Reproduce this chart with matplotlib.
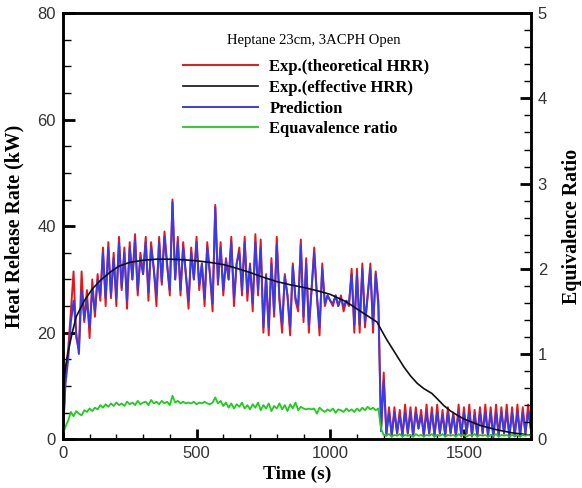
import numpy as np
from matplotlib import pyplot as plt
from matplotlib.ticker import MultipleLocator

# time grid (s) of the sampled HRR / equivalence ratio records
t = np.arange(0, 1751, 10)

# Exp. (theoretical HRR), kW
hrr_theo = [0.5, 12, 17, 24, 31.5, 19, 17, 31.5, 22, 28,
            19, 30, 23, 31, 26, 36, 25, 37, 26.5, 35,
            25, 38, 28, 36, 24.5, 37, 30, 38.5, 27, 35,
            31, 38, 26, 37, 32, 25, 38, 29, 39, 33,
            27, 45, 30, 38, 27, 37, 31, 24.5, 36, 30,
            38, 28, 33, 25, 37, 31, 24, 44, 29, 37,
            27, 34, 30, 38, 25, 33, 36, 27, 38, 26,
            33, 24, 38.5, 27, 37.5, 20, 31, 19.5, 34, 23,
            38, 26, 20, 31, 27, 19.5, 33, 26, 24, 37.5,
            22, 34, 20, 28, 36, 27, 19.5, 33, 25, 27,
            26, 25, 27, 25, 27, 24, 26, 25, 32, 20,
            32, 20, 33, 21, 27, 33, 20, 31.5, 26, 2,
            12.5, 1, 6, 0.5, 6, 1, 5.5, 0.5, 6.5, 1,
            6, 0.5, 6, 2, 5.5, 0.5, 6.5, 1, 6, 0.5,
            6.5, 1, 5.5, 0.5, 6, 1, 5, 0.5, 6.5, 0.5,
            6, 1, 6.5, 0.5, 5.5, 0.5, 6, 1, 6.5, 0.5,
            6, 0.3, 6.5, 0.5, 6, 1, 6.5, 0.3, 6, 0.5,
            6.5, 0.5, 6, 1, 6.5, 2]

# Prediction, kW
hrr_pred = [0.5, 10.5, 15, 22, 26, 20, 16, 28, 22.5, 26,
            21, 28, 24, 30, 27, 35, 26.5, 36, 27, 34,
            26.5, 37, 28.5, 35, 26, 36, 30, 37.5, 28, 34,
            31, 37, 27.5, 36, 32, 27, 37, 29.5, 38, 32.5,
            28, 44.5, 30, 37, 28, 36, 31, 26, 35, 30,
            37, 29, 33, 26.5, 36, 31, 25.5, 43.5, 29.5, 36,
            28, 33.5, 30, 37, 26.5, 33, 35, 28, 37, 27.5,
            32.5, 25.5, 37, 28, 36, 21, 30.5, 21, 33, 24,
            36.5, 26.5, 21.5, 30.5, 27, 21, 32.5, 26.5, 25, 36.5,
            23, 33, 21.5, 28, 35, 27, 21, 32, 25.5, 27,
            26, 25.5, 27, 25, 26.5, 25, 26, 25.5, 31, 21.5,
            31, 21.5, 32, 22, 27, 32, 21.5, 31, 25, 1.5,
            11, 1, 5, 0.8, 5, 1.2, 4.5, 0.8, 5, 1.2,
            5, 0.8, 5, 2, 4.5, 0.8, 5, 1.2, 5, 0.8,
            5, 1.2, 4.5, 0.8, 5, 1.2, 4.5, 0.8, 5, 0.8,
            5, 1.2, 5, 0.8, 4.5, 0.8, 5, 1.2, 5, 0.8,
            5, 0.5, 5, 0.8, 5, 1.2, 5, 0.5, 5, 0.8,
            5, 0.8, 5, 1.2, 5, 2]

# Equivalence ratio (right axis)
phi = [0.05, 0.15, 0.22, 0.32, 0.27, 0.33, 0.3, 0.28, 0.34, 0.32,
       0.36, 0.33, 0.37, 0.35, 0.4, 0.37, 0.41, 0.38, 0.42, 0.39,
       0.43, 0.4, 0.42, 0.39, 0.44, 0.41, 0.43, 0.4, 0.45, 0.41,
       0.43, 0.44, 0.4, 0.46, 0.42, 0.44, 0.41, 0.45, 0.42, 0.44,
       0.4, 0.51, 0.43, 0.45, 0.42, 0.44, 0.42, 0.43, 0.42, 0.44,
       0.41, 0.43, 0.42, 0.44, 0.42, 0.41, 0.43, 0.49, 0.42, 0.45,
       0.39, 0.43, 0.37, 0.42, 0.36, 0.41, 0.38, 0.43, 0.36, 0.4,
       0.35, 0.41, 0.37, 0.43, 0.34, 0.4, 0.36, 0.42, 0.33, 0.39,
       0.36, 0.42, 0.35, 0.4, 0.33, 0.41, 0.36, 0.43, 0.34, 0.38,
       0.36, 0.35, 0.36, 0.35, 0.36, 0.3, 0.37, 0.34, 0.32, 0.35,
       0.33, 0.36, 0.31, 0.35, 0.34, 0.32, 0.36, 0.33, 0.35, 0.32,
       0.36, 0.33, 0.37, 0.34, 0.38, 0.35, 0.37, 0.34, 0.36, 0.12,
       0.05, 0.04, 0.06, 0.03, 0.05, 0.04, 0.06, 0.03, 0.05, 0.04,
       0.05, 0.03, 0.06, 0.04, 0.05, 0.03, 0.05, 0.04, 0.06, 0.03,
       0.05, 0.04, 0.06, 0.03, 0.05, 0.04, 0.05, 0.03, 0.06, 0.04,
       0.05, 0.03, 0.05, 0.04, 0.06, 0.03, 0.05, 0.04, 0.05, 0.03,
       0.05, 0.04, 0.06, 0.03, 0.05, 0.04, 0.05, 0.03, 0.05, 0.04,
       0.05, 0.03, 0.05, 0.04, 0.05, 0.04]

# Exp. (effective HRR), smooth curve
t_eff = [0, 10, 20, 35, 50, 80, 110, 140, 175, 210, 250, 300, 350, 400, 450, 500,
         550, 600, 650, 700, 750, 800, 850, 900, 950, 1000, 1060, 1120, 1175,
         1190, 1210, 1230, 1250, 1275, 1300, 1325, 1350, 1380, 1400, 1425, 1450,
         1475, 1500, 1560, 1620, 1680, 1745]
hrr_eff = [9, 13.5, 16.5, 20, 23, 26, 28.2, 29.8, 31.3, 32.5, 33.2, 33.6, 33.8, 33.8, 33.7, 33.5,
           33.2, 32.8, 32.1, 31.3, 30.4, 29.6, 29.0, 28.5, 27.9, 27.2, 25.8, 23.8, 22,
           20.6, 18.8, 17.2, 15.6, 13.6, 11.9, 10.5, 9.5, 8.6, 7.6, 6.3, 5.3,
           4.5, 3.8, 2.6, 1.8, 1.2, 0.8]

plt.rcParams['font.family'] = ['Liberation Sans', 'DejaVu Sans']
serif = 'Liberation Serif'

fig = plt.figure(figsize=(5.82, 4.88), dpi=100)
ax = fig.add_axes([0.108, 0.100, 0.804, 0.873])
ax2 = ax.twinx()

l1, = ax.plot(t, hrr_theo, color='#e8161b', lw=1.4)
l3, = ax.plot(t, hrr_pred, color='#3b3be6', lw=1.4)
l2, = ax.plot(t_eff, hrr_eff, color='#111111', lw=1.2)
l4, = ax2.plot(t, phi, color='#1ecb1e', lw=1.3)

ax.set_xlim(0, 1750)
ax.set_ylim(0, 80)
ax2.set_ylim(0, 5)

ax.xaxis.set_major_locator(MultipleLocator(500))
ax.xaxis.set_minor_locator(MultipleLocator(100))
ax.yaxis.set_major_locator(MultipleLocator(20))
ax.yaxis.set_minor_locator(MultipleLocator(5))
ax2.yaxis.set_major_locator(MultipleLocator(1))
ax2.yaxis.set_minor_locator(MultipleLocator(0.2))

for a in (ax, ax2):
    for s in a.spines.values():
        s.set_linewidth(1.8)
ax.tick_params(which='major', direction='in', length=8.5, width=2, labelsize=12,
               labelcolor='#333333', pad=5, top=False, right=False)
ax.tick_params(which='minor', direction='in', length=5.5, width=1, top=False, right=False)
ax.tick_params(axis='x', which='major', length=7.5)
ax.tick_params(axis='x', which='minor', length=3.5)
ax2.tick_params(which='major', direction='in', length=8, width=2, labelsize=12,
                labelcolor='#333333', pad=5)
ax2.tick_params(which='minor', direction='in', length=5, width=1)

ax.set_xlabel('Time (s)', family=serif, fontweight='bold', fontsize=14, labelpad=3)
ax.set_ylabel('Heat Release Rate (kW)', family=serif, fontweight='bold', fontsize=14.3, labelpad=9)
ax2.set_ylabel('Equivalence Ratio', family=serif, fontweight='bold', fontsize=14.3, labelpad=11)

ax2.text(0.350, 0.937, 'Heptane 23cm, 3ACPH Open', transform=ax.transAxes,
         family=serif, fontsize=10.5, va='center', ha='left')

leg = ax2.legend([l1, l2, l3, l4],
                 ['Exp.(theoretical HRR)', 'Exp.(effective HRR)', 'Prediction', 'Equavalence ratio'],
                 loc='upper left', bbox_to_anchor=(0.256, 0.892), frameon=False,
                 borderaxespad=0, borderpad=0, handlelength=4.5, handletextpad=0.7,
                 labelspacing=0.28, prop={'family': serif, 'weight': 'bold', 'size': 12})

fig.savefig('out.png', dpi=100)
